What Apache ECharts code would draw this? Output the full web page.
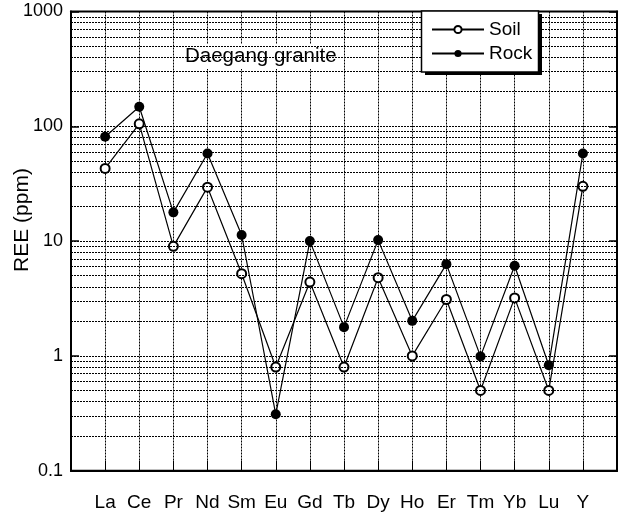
<!DOCTYPE html>
<html>
<head>
<meta charset="utf-8">
<script src="https://cdn.jsdelivr.net/npm/echarts@6/dist/echarts.min.js"></script>
<style>html,body{margin:0;padding:0;background:#fff}#c{width:621px;height:513px}</style>
</head>
<body>
<div id="c"></div>
<script>
const categories = ['La','Ce','Pr','Nd','Sm','Eu','Gd','Tb','Dy','Ho','Er','Tm','Yb','Lu','Y'];
const soilValues = [43, 105, 9.0, 29.5, 5.2, 0.80, 4.4, 0.80, 4.8, 1.0, 3.1, 0.50, 3.2, 0.50, 30];
const rockValues = [81, 148, 17.8, 58, 11.3, 0.31, 10.0, 1.78, 10.2, 2.02, 6.3, 0.99, 6.1, 0.83, 58];
const yTicks = [0.1, 1, 10, 100, 1000];
const minorGrid = [];
[0.1, 1, 10, 100].forEach(d => { for (let k = 2; k <= 9; k++) minorGrid.push(+(d * k).toPrecision(3)); });

const font = "'Liberation Sans', Arial, Helvetica, sans-serif";
const chart = echarts.init(document.getElementById('c'), null, {renderer: 'canvas'});
const dash = {color: '#000', width: 1, type: [2, 1]};

chart.setOption({
  animation: false,
  backgroundColor: '#fff',
  grid: {left: 71, right: 4, top: 11.5, bottom: 42.3, show: true, borderColor: '#000', borderWidth: 2},
  legend: {
    data: ['Soil', 'Rock'],
    orient: 'vertical',
    left: 422, top: 11, z: 10,
    padding: [9, 8, 10, 9],
    itemGap: 5,
    itemWidth: 52, itemHeight: 9,
    textStyle: {fontSize: 19, color: '#000', fontFamily: font}
  },
  xAxis: {
    type: 'value', min: 0, max: 16, interval: 1,
    axisLine: {lineStyle: {color: '#000', width: 2}},
    axisTick: {inside: true, length: 10, lineStyle: {color: '#000', width: 1}},
    axisLabel: {margin: 23, fontSize: 19, color: '#000', fontFamily: font,
      formatter: v => (v >= 1 && v <= categories.length) ? categories[v - 1] : ''},
    splitLine: {show: true, lineStyle: dash}
  },
  yAxis: [{
    type: 'log', logBase: 10, min: 0.1, max: 1000,
    axisLine: {show: true, lineStyle: {color: '#000', width: 2}},
    axisTick: {show: true, inside: true, length: 8, lineStyle: {color: '#000', width: 1.5}},
    axisLabel: {margin: 8, fontSize: 18, color: '#000', fontFamily: font,
      formatter: v => String(yTicks.find(t => Math.abs(Math.log10(t) - Math.log10(v)) < 1e-6) ?? v)},
    splitLine: {show: true, lineStyle: dash}
  }, {
    type: 'log', logBase: 10, min: 0.1, max: 1000, position: 'right',
    axisLine: {show: true, lineStyle: {color: '#000', width: 2}},
    axisTick: {show: true, inside: true, length: 8, lineStyle: {color: '#000', width: 1.5}},
    axisLabel: {show: false},
    splitLine: {show: false}
  }],
  graphic: [{
    type: 'rect', z: 8, silent: true,
    shape: {x: 425, y: 14, width: 117, height: 61},
    style: {fill: '#000'}
  }, {
    type: 'rect', z: 9, silent: true,
    shape: {x: 421.5, y: 11, width: 117, height: 61},
    style: {fill: '#fff', stroke: '#000', lineWidth: 1.5}
  }, {
    type: 'text', left: 182, top: 44, z: 5,
    style: {text: 'Daegang granite', fontSize: 20.5, fontFamily: font, fill: '#000',
      backgroundColor: '#fff', padding: [2, 3]}
  }, {
    type: 'text', x: 12, y: 220, rotation: Math.PI / 2, z: 5,
    style: {text: 'REE (ppm)', fontSize: 21, fontFamily: font, fill: '#000', align: 'center', verticalAlign: 'top'}
  }],
  series: [{
    type: 'line', name: 'minor', data: [], silent: true, z: 1,
    markLine: {silent: true, symbol: ['none', 'none'], label: {show: false},
      lineStyle: dash, emphasis: {disabled: true},
      data: minorGrid.map(v => ({yAxis: v}))}
  }, {
    type: 'line', name: 'Soil', z: 3,
    data: categories.map((c, i) => [i + 1, soilValues[i]]),
    symbol: 'emptyCircle', symbolSize: 9,
    lineStyle: {color: '#000', width: 1.2},
    itemStyle: {color: '#000', borderWidth: 1}
  }, {
    type: 'line', name: 'Rock', z: 4,
    data: categories.map((c, i) => [i + 1, rockValues[i]]),
    symbol: 'circle', symbolSize: 10,
    lineStyle: {color: '#000', width: 1.2},
    itemStyle: {color: '#000'}
  }]
});
</script>
</body>
</html>
